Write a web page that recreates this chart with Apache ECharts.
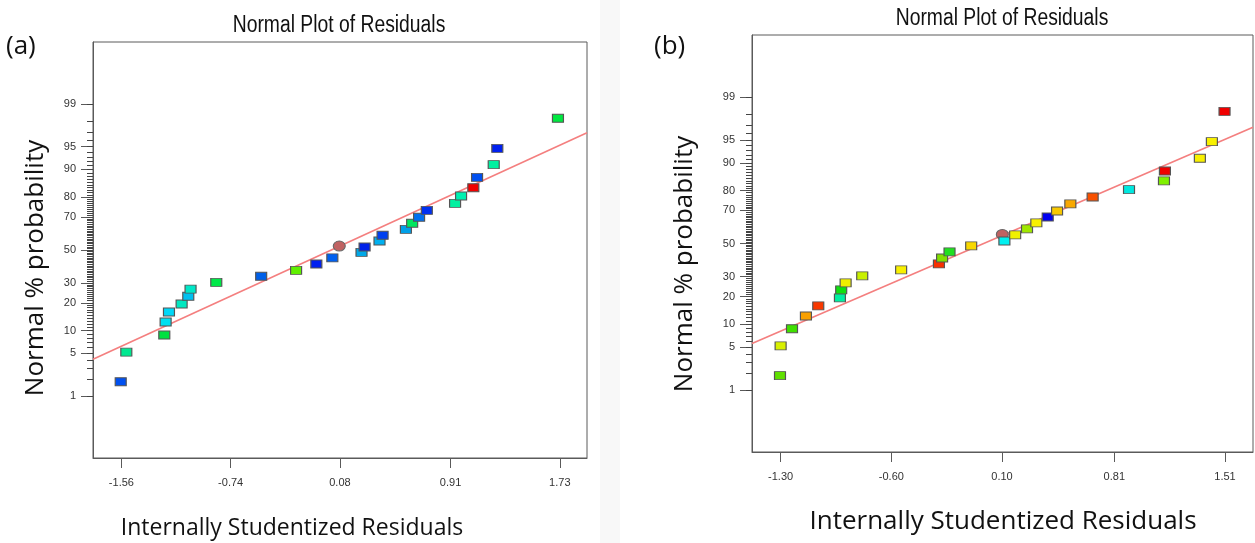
<!DOCTYPE html>
<html>
<head>
<meta charset="utf-8">
<script src="https://cdn.jsdelivr.net/npm/echarts@6/dist/echarts.min.js"></script>
<style>
  html, body { margin: 0; padding: 0; background: #fff; }
  #chart { width: 1255px; height: 543px; }
</style>
</head>
<body>
<div id="chart"></div>
<script>
// tick labels
const xTicksA = [-1.56, -0.74, 0.08, 0.91, 1.73];
const xTicksB = [-1.30, -0.60, 0.10, 0.81, 1.51];
const probLabels = [1, 5, 10, 20, 30, 50, 70, 80, 90, 95, 99];

// (a) residuals vs normal % probability
const residA = [-1.565, -1.523, -1.238, -1.228, -1.203, -1.108, -1.058, -1.041, -0.848, -0.511,
  -0.249, -0.097, 0.023, 0.242, 0.265, 0.377, 0.400, 0.575, 0.622, 0.674,
  0.732, 0.944, 0.989, 1.081, 1.109, 1.234, 1.261, 1.716];
const probA = [1.8, 5.2, 8.8, 12.6, 16.2, 19.5, 23.1, 26.7, 30.3, 33.8,
  37.3, 41.2, 45.0, 48.5, 51.9, 55.7, 59.3, 62.9, 66.5, 69.9,
  73.6, 77.1, 80.5, 83.9, 87.6, 91.3, 94.7, 98.2];
const centerA = [0.075, 52.5];
const fitXA = [-1.773, 1.934];
const fitPA = [4.10, 96.9];

// (b)
const residB = [-1.304, -1.300, -1.228, -1.140, -1.062, -0.925, -0.917, -0.889, -0.784, -0.538,
  -0.299, -0.279, -0.232, -0.095, 0.115, 0.183, 0.258, 0.317, 0.389, 0.448,
  0.532, 0.673, 0.903, 1.124, 1.130, 1.351, 1.427, 1.507];
const probB = [1.8, 5.2, 8.8, 12.5, 16.1, 19.4, 23.1, 26.6, 30.4, 33.8,
  37.3, 40.9, 44.7, 48.5, 51.6, 55.4, 59.2, 62.8, 66.3, 69.7,
  73.5, 77.0, 80.4, 84.0, 87.5, 91.2, 94.7, 98.2];
const centerB = [0.102, 55.7];
const fitXB = [-1.481, 1.687];
const fitPB = [5.61, 96.76];

// point colours (Design-Expert colour scale)
const colorsA = ['#0050f0', '#00e890', '#00e040', '#00e0f0', '#00d8f8', '#00e8c0', '#00c0f0', '#00e8c8',
  '#00e848', '#0060e8', '#60f000', '#0020f0', '#0060f0', '#00a8e8', '#0020e8', '#00b0f0',
  '#0040f0', '#00a0e8', '#00e860', '#0070f0', '#0030f0', '#00f0a0', '#00f0b0', '#f00000',
  '#0050f0', '#00f0a0', '#0020f0', '#00e840'];
const colorsB = ['#60e000', '#d8f000', '#40e000', '#f8a000', '#f83800', '#00f0a0', '#10e010', '#f0f000',
  '#c8f000', '#f8f000', '#f83000', '#80e000', '#20e020', '#f8d800', '#00f0f0', '#f0f000',
  '#a0e800', '#f8f000', '#0000f0', '#f8c800', '#f8a800', '#f85000', '#00e8e0', '#80f000',
  '#f00000', '#f8f000', '#f8f000', '#f00000'];

// inverse normal cdf (Acklam)
function probit(pct) {
  const p = pct / 100;
  const a = [-3.969683028665376e+01, 2.209460984245205e+02, -2.759285104469687e+02, 1.383577518672690e+02, -3.066479806614716e+01, 2.506628277459239e+00];
  const b = [-5.447609879822406e+01, 1.615858368580409e+02, -1.556989798598866e+02, 6.680131188771972e+01, -1.328068155288572e+01];
  const c = [-7.784894002430293e-03, -3.223964580411365e-01, -2.400758277161838e+00, -2.549732539343734e+00, 4.374664141464968e+00, 2.938163982698783e+00];
  const d = [7.784695709041462e-03, 3.224671290700398e-01, 2.445134137142996e+00, 3.754408661907416e+00];
  const plow = 0.02425, phigh = 1 - plow;
  let q, r;
  if (p < plow) {
    q = Math.sqrt(-2 * Math.log(p));
    return (((((c[0]*q+c[1])*q+c[2])*q+c[3])*q+c[4])*q+c[5]) / ((((d[0]*q+d[1])*q+d[2])*q+d[3])*q+1);
  }
  if (p <= phigh) {
    q = p - 0.5; r = q * q;
    return (((((a[0]*r+a[1])*r+a[2])*r+a[3])*r+a[4])*r+a[5])*q / (((((b[0]*r+b[1])*r+b[2])*r+b[3])*r+b[4])*r+1);
  }
  q = Math.sqrt(-2 * Math.log(1 - p));
  return -(((((c[0]*q+c[1])*q+c[2])*q+c[3])*q+c[4])*q+c[5]) / ((((d[0]*q+d[1])*q+d[2])*q+d[3])*q+1);
}

const minorPct = [];
for (let i = 1; i <= 99; i++) minorPct.push(i);
const majorZ = probLabels.map(probit);
const minorZ = minorPct.map(probit);
const ZMAX = 3.31;

const numFont = "'Liberation Sans', Arial, sans-serif";
const axisGrey = '#5a5a5a';

function points(xs, ps, colors) {
  return xs.map((x, i) => ({ value: [x, probit(ps[i])], itemStyle: { color: colors[i] } }));
}

function xAxisFor(gi, ticks, min, max) {
  return {
    gridIndex: gi, type: 'value', min: min, max: max, position: 'bottom',
    axisLine: { show: true, onZero: false, lineStyle: { color: axisGrey, width: 1 } },
    axisTick: { show: true, customValues: ticks, length: 10, lineStyle: { color: axisGrey } },
    axisLabel: { customValues: ticks, margin: 19, color: '#333', fontFamily: numFont, fontSize: 11,
      formatter: v => v.toFixed(2) },
    splitLine: { show: false }
  };
}

function yAxesFor(gi) {
  return [{
    gridIndex: gi, type: 'value', min: -ZMAX, max: ZMAX, position: 'left',
    axisLine: { show: true, onZero: false, lineStyle: { color: axisGrey, width: 1 } },
    axisTick: { show: true, customValues: majorZ, length: 12, lineStyle: { color: axisGrey } },
    axisLabel: { customValues: majorZ, margin: 17, color: '#333', fontFamily: numFont, fontSize: 11,
      formatter: v => String(probLabels[majorZ.findIndex(z => Math.abs(z - v) < 1e-6)]) },
    splitLine: { show: false }
  }, {
    gridIndex: gi, type: 'value', min: -ZMAX, max: ZMAX, position: 'left', offset: 0,
    axisLine: { show: false, onZero: false },
    axisTick: { show: true, customValues: minorZ, length: 6, lineStyle: { color: '#444' } },
    axisLabel: { show: false },
    splitLine: { show: false }
  }];
}

function seriesFor(gi, xs, ps, colors, center, fitX, fitP) {
  return [{
    type: 'line', xAxisIndex: gi, yAxisIndex: gi * 2, silent: true, symbol: 'none',
    lineStyle: { color: '#f47f7f', width: 1.6 }, z: 1,
    data: fitX.map((x, i) => [x, probit(fitP[i])])
  }, {
    type: 'scatter', xAxisIndex: gi, yAxisIndex: gi * 2, symbol: 'rect', symbolSize: [11, 8], z: 3,
    itemStyle: { borderColor: '#555', borderWidth: 1, opacity: 1 },
    data: points(xs, ps, colors)
  }, {
    type: 'scatter', xAxisIndex: gi, yAxisIndex: gi * 2, symbol: 'circle', symbolSize: [12, 10], z: 2,
    itemStyle: { color: '#c06262', borderColor: '#666', borderWidth: 1, opacity: 1 },
    data: [[center[0], probit(center[1])]]
  }];
}

const chart = echarts.init(document.getElementById('chart'));
const bigFont = "'Open Sans', 'Noto Sans', sans-serif";

const option = {
  animation: false,
  backgroundColor: '#fff',
  grid: [
    { left: 93, top: 42, width: 494, height: 416, show: true, borderColor: axisGrey, borderWidth: 1, containLabel: false },
    { left: 752, top: 35, width: 501, height: 417, show: true, borderColor: axisGrey, borderWidth: 1, containLabel: false }
  ],
  xAxis: [xAxisFor(0, xTicksA, -1.773, 1.934), xAxisFor(1, xTicksB, -1.481, 1.687)],
  yAxis: [...yAxesFor(0), ...yAxesFor(1)],
  series: [
    ...seriesFor(0, residA, probA, colorsA, centerA, fitXA, fitPA),
    ...seriesFor(1, residB, probB, colorsB, centerB, fitXB, fitPB)
  ],
  graphic: [
    { type: 'rect', shape: { x: 600, y: 0, width: 20, height: 543 }, style: { fill: '#f8f8f8' }, z: -10 },
    // titles, condensed like the original narrow face
    { type: 'text', x: 339, y: 37, scaleX: 0.84,
      style: { text: 'Normal Plot of Residuals', fill: '#111', font: "23px " + numFont, textAlign: 'center', textVerticalAlign: 'bottom' } },
    { type: 'text', x: 1002, y: 30, scaleX: 0.84,
      style: { text: 'Normal Plot of Residuals', fill: '#111', font: "23px " + numFont, textAlign: 'center', textVerticalAlign: 'bottom' } },
    { type: 'text', style: { text: '(a)', x: 6, y: 47, fill: '#111', font: "26px " + bigFont, textVerticalAlign: 'middle' } },
    { type: 'text', style: { text: '(b)', x: 654, y: 47, fill: '#111', font: "26px " + bigFont, textVerticalAlign: 'middle' } },
    { type: 'text', x: 36, y: 268, rotation: Math.PI / 2,
      style: { text: 'Normal % probability', fill: '#111', font: "26px " + bigFont, textAlign: 'center', textVerticalAlign: 'middle' } },
    { type: 'text', x: 685, y: 264, rotation: Math.PI / 2,
      style: { text: 'Normal % probability', fill: '#111', font: "26px " + bigFont, textAlign: 'center', textVerticalAlign: 'middle' } },
    { type: 'text', style: { text: 'Internally Studentized Residuals', x: 292, y: 528, fill: '#111', font: "23px " + bigFont, textAlign: 'center', textVerticalAlign: 'middle' } },
    { type: 'text', style: { text: 'Internally Studentized Residuals', x: 1003, y: 522, fill: '#111', font: "26px " + bigFont, textAlign: 'center', textVerticalAlign: 'middle' } }
  ]
};
chart.setOption(option);
</script>
</body>
</html>
